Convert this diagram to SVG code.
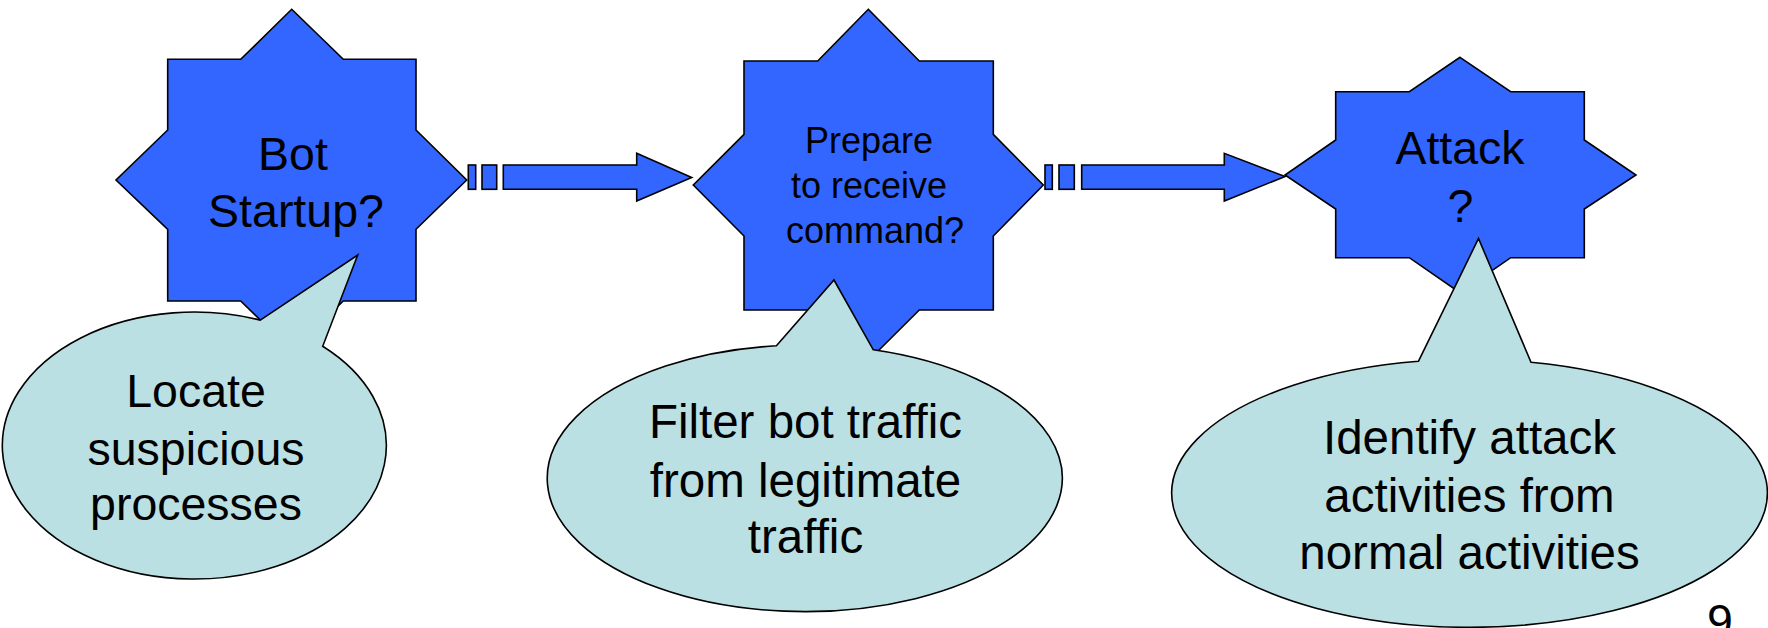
<svg xmlns="http://www.w3.org/2000/svg" width="1768" height="628" viewBox="0 0 1768 628">
  <style>
    .star { fill: #3366FF; stroke: #000; stroke-width: 1.6; stroke-linejoin: miter; }
    .arrow { fill: #3366FF; stroke: #000; stroke-width: 1.6; }
    .callout { fill: #BBE0E3; stroke: #000; stroke-width: 1.6; stroke-linejoin: miter; }
    text { font-family: "Liberation Sans", Arial, sans-serif; fill: #000; text-anchor: middle; }
    .big { font-size: 46.5px; }
    .wide { font-size: 47.5px; }
    .mid { font-size: 36px; }
  </style>
  <rect width="1768" height="628" fill="#fff"/>

  <!-- stage 1 -->
  <g id="star-startup">
    <polygon class="star" points="291.7,9.3 343.3,59.3 416,59.3 416,130 466.7,180 416,229.3 416,301 343.3,301 291.7,350.7 240.7,301 167.7,301 167.7,229.3 116,180 167.7,130 167.7,59.3 240.7,59.3"/>
    <text class="big" x="293" y="170">Bot</text>
    <text class="big" x="296" y="226.7">Startup?</text>
  </g>

  <!-- stage 2 -->
  <g id="star-prepare">
    <polygon class="star" points="868.3,9.3 919.3,61 993.3,61 993.3,134.3 1043.3,185 993.3,236 993.3,310 919.3,310 868.3,360.7 817.7,310 744,310 744,236 693.3,185 744,134.3 744,61 817.7,61"/>
    <text class="mid" x="869" y="153.3">Prepare</text>
    <text class="mid" x="869" y="198.3">to receive</text>
    <text class="mid" x="875" y="243.3">command?</text>
  </g>

  <!-- stage 3 -->
  <g id="star-attack">
    <polygon class="star" points="1460,57.3 1510.7,91.7 1584.3,91.7 1584.3,140 1636,175 1584.3,209 1584.3,257.7 1510.7,257.7 1460,292.7 1409.3,257.7 1335.7,257.7 1335.7,209 1285,175 1335.7,140 1335.7,91.7 1409.3,91.7"/>
    <text class="big" x="1460" y="164">Attack</text>
    <text class="big" x="1460.5" y="221.7">?</text>
  </g>

  <!-- striped block arrows between stages -->
  <g id="connectors">
    <g id="arrow-1">
      <rect class="arrow" x="468.3" y="165" width="7.4" height="24.3"/>
      <rect class="arrow" x="482" y="165" width="14.7" height="24.3"/>
      <polygon class="arrow" points="503.3,165 636.7,165 636.7,153.3 691.7,177.5 636.7,201 636.7,189.3 503.3,189.3"/>
    </g>
    <g id="arrow-2">
      <rect class="arrow" x="1045" y="165" width="7.3" height="24.3"/>
      <rect class="arrow" x="1059" y="165" width="15.3" height="24.3"/>
      <polygon class="arrow" points="1081.7,165 1224.3,165 1224.3,153.3 1285,176.5 1224.3,201 1224.3,189.3 1081.7,189.3"/>
    </g>
  </g>

  <!-- speech-bubble callouts -->
  <g id="callout-locate">
    <path class="callout" d="M260.3,320.2 L357.7,255 L322.7,346.3 A192,133.5 0 1 1 260.3,320.2 Z"/>
    <text class="big" x="196" y="407.3">Locate</text>
    <text class="big" x="196" y="465">suspicious</text>
    <text class="big" x="196" y="520">processes</text>
  </g>

  <g id="callout-filter">
    <path class="callout" d="M776.4,345.8 L834,280 L873.3,349.8 A257.5,133.3 0 1 1 776.4,345.8 Z"/>
    <text class="wide" x="805.5" y="438.3">Filter bot traffic</text>
    <text class="wide" x="805.5" y="496.7">from legitimate</text>
    <text class="wide" x="805.5" y="553.3">traffic</text>
  </g>

  <g id="callout-identify">
    <path class="callout" d="M1418.4,361.3 L1478.5,238.5 L1531,362.2 A297.8,134 0 1 1 1418.4,361.3 Z"/>
    <text class="wide" x="1469.5" y="454.3">Identify attack</text>
    <text class="wide" x="1469.5" y="511.7">activities from</text>
    <text class="wide" x="1469.5" y="569.3">normal activities</text>
  </g>

  <!-- slide number, partly below the bottom edge -->
  <text class="big" x="1720" y="637">9</text>
</svg>
